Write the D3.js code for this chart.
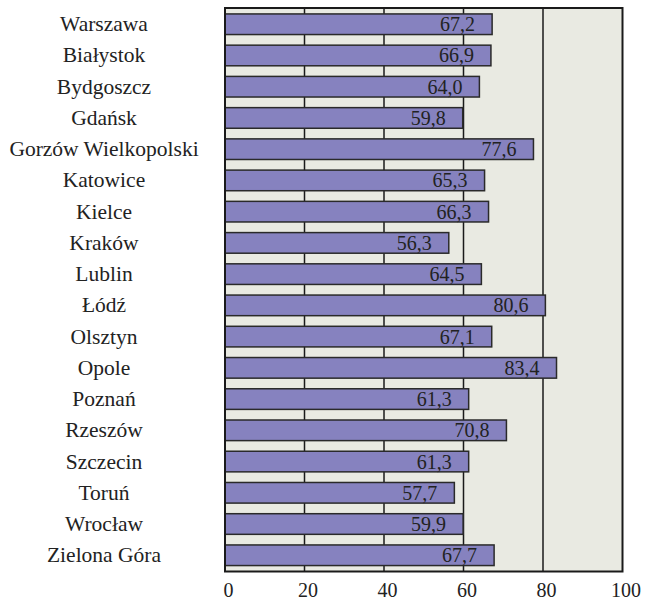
<!DOCTYPE html>
<html><head><meta charset="utf-8">
<script src="https://cdn.jsdelivr.net/npm/d3@7"></script>
</head><body style="margin:0">
<svg id="c" width="648" height="601"></svg>
<script>
const categories = ["Warszawa","Białystok","Bydgoszcz","Gdańsk","Gorzów Wielkopolski","Katowice","Kielce","Kraków","Lublin","Łódź","Olsztyn","Opole","Poznań","Rzeszów","Szczecin","Toruń","Wrocław","Zielona Góra"];
const values = [67.2,66.9,64.0,59.8,77.6,65.3,66.3,56.3,64.5,80.6,67.1,83.4,61.3,70.8,61.3,57.7,59.9,67.7];
const ticks = [0,20,40,60,80,100];

const FF = '"Liberation Serif", "Times New Roman", Tinos';
const svg = d3.select("#c");
const L = 225, R = 622.5, T = 8, B = 571.5;
const x = d3.scaleLinear().domain([0,100]).range([L,R]);
const y = d3.scaleBand().domain(categories).range([T,B]).paddingInner(0.34).paddingOuter(0.19);

svg.append("rect").attr("x",L).attr("y",T).attr("width",R-L).attr("height",B-T).attr("fill","#e9eae2");
svg.append("g").selectAll("line").data(ticks.slice(1,-1)).join("line")
  .attr("x1",d=>x(d)).attr("x2",d=>x(d)).attr("y1",T).attr("y2",B)
  .attr("stroke","#1a1a1a").attr("stroke-width",1.5);

const data = categories.map((c,i)=>({c,v:values[i]}));
svg.append("g").selectAll("rect").data(data).join("rect")
  .attr("x",x(0)).attr("y",d=>y(d.c)).attr("width",d=>x(d.v)-x(0)).attr("height",y.bandwidth())
  .attr("fill","#8682bf").attr("stroke","#2a2a2a").attr("stroke-width",1.5);

svg.selectAll("text.val").data(data).join("text").attr("class","val")
  .attr("x",d=>x(d.v)-17).attr("y",d=>y(d.c)+y.bandwidth()/2+7)
  .attr("text-anchor","end").style("font-family",FF).style("font-size","20px").attr("fill","#222")
  .text(d=>d.v.toFixed(1).replace(".",","));

svg.selectAll("text.cat").data(categories).join("text").attr("class","cat")
  .attr("x",104).attr("y",d=>y(d)+y.bandwidth()/2+7)
  .attr("text-anchor","middle").style("font-family",FF).style("font-size","21.5px").attr("fill","#222")
  .text(d=>d);

svg.append("rect").attr("x",L).attr("y",T).attr("width",R-L).attr("height",B-T)
  .attr("fill","none").attr("stroke","#1a1a1a").attr("stroke-width",2);

const ax = d3.axisBottom(x).tickValues(ticks).tickSize(0).tickPadding(0).tickFormat(d=>d);
const g = svg.append("g").attr("transform",`translate(0,${B})`).call(ax);
g.select(".domain").remove();
g.attr("font-family",null).attr("font-size",null);
g.selectAll("text").style("font-family",FF).style("font-size","20px").attr("fill","#222").attr("dy",null).attr("y",25).attr("dx",3);
</script>
</body></html>
